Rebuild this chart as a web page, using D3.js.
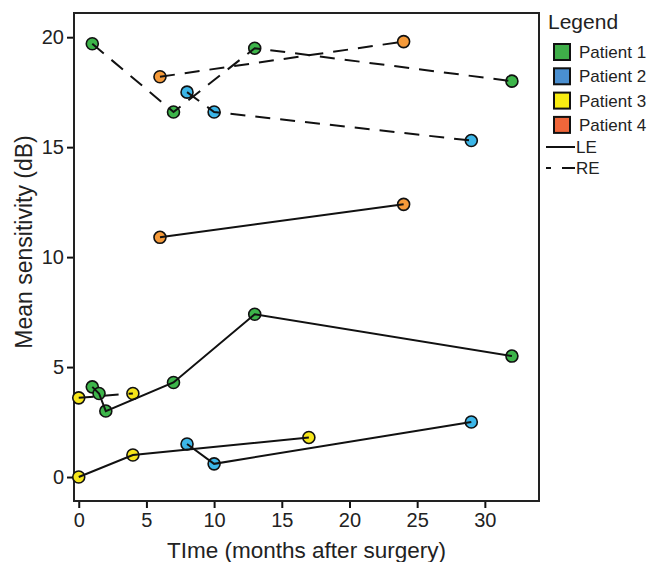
<!DOCTYPE html>
<html>
<head>
<meta charset="utf-8">
<style>
    body { margin: 0; background: #fff; }
    text { font-family: "Liberation Sans", Arial, sans-serif; fill: #222; }
</style>
</head>
<body>
<div id="chart"></div>
<script src="https://d3js.org/d3.v7.min.js"></script>
<script type="text/javascript">
    // [months, dB] pairs
    var p1LE = [[1, 4.1], [1.5, 3.8], [2, 3.0], [7, 4.3], [13, 7.4], [32, 5.5]];
    var p1RE = [[1, 19.7], [7, 16.6], [13, 19.5], [32, 18.0]];
    var p2LE = [[8, 1.5], [10, 0.6], [29, 2.5]];
    var p2RE = [[8, 17.5], [10, 16.6], [29, 15.3]];
    var p3LE = [[0, 0], [4, 1.0], [17, 1.8]];
    var p3RE = [[0, 3.6], [4, 3.8]];
    var p4LE = [[6, 10.9], [24, 12.4]];
    var p4RE = [[6, 18.2], [24, 19.8]];

    var patients = ["Patient 1", "Patient 2", "Patient 3", "Patient 4"];
    var pointColors = ["#3db54a", "#3cb6e8", "#f6e61a", "#f59a3a"];
    var legendColors = ["#3fae49", "#4a8fd0", "#f8ec12", "#ef663a"];
    var xTicks = [0, 5, 10, 15, 20, 25, 30];
    var yTicks = [0, 5, 10, 15, 20];

    var series = [
        { p: 0, eye: "LE", pts: p1LE }, { p: 0, eye: "RE", pts: p1RE },
        { p: 1, eye: "LE", pts: p2LE }, { p: 1, eye: "RE", pts: p2RE },
        { p: 2, eye: "LE", pts: p3LE }, { p: 2, eye: "RE", pts: p3RE },
        { p: 3, eye: "LE", pts: p4LE }, { p: 3, eye: "RE", pts: p4RE }
    ];

    var w = 655;
    var h = 562;
    var m = { left: 74, top: 13, right: 539, bottom: 501 };
    var dash = "15,10";

    var x = d3.scaleLinear().domain([-0.35, 34]).range([m.left, m.right]);
    var y = d3.scaleLinear().domain([-1.09, 21.1]).range([m.bottom, m.top]);

    var svg = d3.select('#chart')
        .append('svg')
        .attr('width', w)
        .attr('height', h);

    // axes (ticks only, box drawn separately)
    var xAxis = svg.append('g')
        .attr('transform', 'translate(0,' + m.bottom + ')')
        .call(d3.axisBottom(x).tickValues(xTicks).tickSize(7).tickPadding(5));
    var yAxis = svg.append('g')
        .attr('transform', 'translate(' + m.left + ',0)')
        .call(d3.axisLeft(y).tickValues(yTicks).tickSize(7).tickPadding(3));

    [xAxis, yAxis].forEach(function (a) {
        a.select('.domain').remove();
        a.selectAll('line').attr('stroke', '#111').attr('stroke-width', 2);
        a.selectAll('text')
            .style('font-family', '"Liberation Sans", Arial, sans-serif')
            .attr('font-size', '20px')
            .attr('fill', '#222');
    });

    svg.append('rect')
        .attr('x', m.left)
        .attr('y', m.top)
        .attr('width', m.right - m.left)
        .attr('height', m.bottom - m.top)
        .attr('fill', 'none')
        .attr('stroke', '#222')
        .attr('stroke-width', 2);

    // points first, lines drawn on top of them
    series.forEach(function (s) {
        svg.append('g').selectAll('circle')
            .data(s.pts)
            .enter()
            .append('circle')
            .attr('cx', function (d) { return x(d[0]); })
            .attr('cy', function (d) { return y(d[1]); })
            .attr('r', 6)
            .attr('fill', pointColors[s.p])
            .attr('stroke', '#111')
            .attr('stroke-width', 1.6);
    });

    var line = d3.line()
        .x(function (d) { return x(d[0]); })
        .y(function (d) { return y(d[1]); });

    series.forEach(function (s) {
        svg.append('path')
            .attr('d', line(s.pts))
            .attr('fill', 'none')
            .attr('stroke', '#111')
            .attr('stroke-width', 2)
            .attr('stroke-dasharray', s.eye == "RE" ? dash : null);
    });

    // axis titles
    svg.append('text')
        .text('TIme (months after surgery)')
        .attr('x', (m.left + m.right) / 2)
        .attr('y', 558)
        .attr('text-anchor', 'middle')
        .attr('font-size', '22.5px');

    svg.append('text')
        .text('Mean sensitivity (dB)')
        .attr('transform', 'translate(32,' + 242 + ') rotate(-90)')
        .attr('text-anchor', 'middle')
        .attr('font-size', '23px');

    // legend
    var lg = svg.append('g').attr('transform', 'translate(547,0)');
    lg.append('text')
        .text('Legend')
        .attr('x', 1)
        .attr('y', 29)
        .attr('font-size', '21px');

    var items = lg.selectAll('g.item')
        .data(patients)
        .enter()
        .append('g')
        .attr('transform', function (d, i) { return 'translate(0,' + (44 + i * 24.3) + ')'; });
    items.append('rect')
        .attr('x', 7)
        .attr('y', 0)
        .attr('width', 16)
        .attr('height', 16)
        .attr('fill', function (d, i) { return legendColors[i]; })
        .attr('stroke', '#111')
        .attr('stroke-width', 2);
    items.append('text')
        .text(function (d) { return d; })
        .attr('x', 32)
        .attr('y', 14)
        .attr('font-size', '17px');

    var eyes = [{ k: "LE", d: null }, { k: "RE", d: dash }];
    eyes.forEach(function (e, i) {
        var yy = 147 + i * 21;
        lg.append('line')
            .attr('x1', -1).attr('x2', 28)
            .attr('y1', yy).attr('y2', yy)
            .attr('stroke', '#111')
            .attr('stroke-width', 2)
            .attr('stroke-dasharray', e.d ? '5,11,13' : null);
        lg.append('text')
            .text(e.k)
            .attr('x', 29)
            .attr('y', yy + 6)
            .attr('font-size', '17px');
    });
</script>
</body>
</html>
